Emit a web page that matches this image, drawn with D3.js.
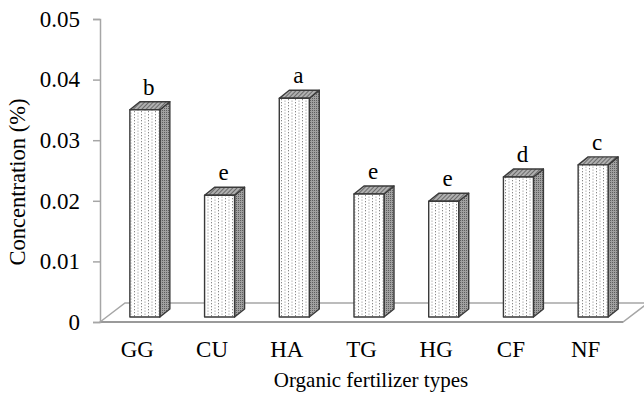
<!DOCTYPE html>
<html>
<head>
<meta charset="utf-8">
<title>Organic fertilizer concentration</title>
<script src="https://cdn.jsdelivr.net/npm/d3@7"></script>
<style>
    body { margin: 0; background: #fff; }
    svg text { font-family: "Liberation Serif", "Times New Roman", serif !important; fill: #000; }
    .floor { fill: none; stroke: #a6a6a6; stroke-width: 1.5px; }
    .bar-edge { stroke: #3a3a3a; stroke-width: 1.4px; stroke-linejoin: round; }
</style>
</head>
<body>
<script>
    // data
    var categories = ["GG", "CU", "HA", "TG", "HG", "CF", "NF"];
    var values = [0.0342, 0.0201, 0.0361, 0.0203, 0.0191, 0.0231, 0.0251];
    var letters = ["b", "e", "a", "e", "e", "d", "c"];
    var yTicks = [0, 0.01, 0.02, 0.03, 0.04, 0.05];

    var width = 644, height = 400;
    var plotLeft = 100, plotRight = 623, plotBottom = 322, plotTop = 19;
    var floorDx = 25, floorDy = -19;   // depth of the floor
    var offX = 7.5, offY = -5;         // bar front plane inside floor
    var depthX = 10, depthY = -8;      // bar depth
    var barW = 30;
    var fontSize = "23px";

    var svg = d3.select("body").append("svg")
        .attr("width", width)
        .attr("height", height);

    var defs = svg.append("defs");

    // dotted front face
    var pf = defs.append("pattern").attr("id", "dots-front")
        .attr("patternUnits", "userSpaceOnUse").attr("width", 7).attr("height", 3);
    pf.append("rect").attr("width", 7).attr("height", 3).attr("fill", "#fff");
    pf.append("rect").attr("x", 1).attr("y", 0).attr("width", 1).attr("height", 1.3).attr("fill", "#8a8a8a");
    pf.append("rect").attr("x", 4.5).attr("y", 1.5).attr("width", 1).attr("height", 1.3).attr("fill", "#a6a6a6");

    // dense side face
    var ps = defs.append("pattern").attr("id", "dots-side")
        .attr("patternUnits", "userSpaceOnUse").attr("width", 2).attr("height", 2);
    ps.append("rect").attr("width", 2).attr("height", 2).attr("fill", "#a0a0a0");
    ps.append("rect").attr("width", 1).attr("height", 1).attr("fill", "#5e5e5e");

    // hatched top face
    var pt = defs.append("pattern").attr("id", "hatch-top")
        .attr("patternUnits", "userSpaceOnUse").attr("width", 3).attr("height", 3)
        .attr("patternTransform", "rotate(45)");
    pt.append("rect").attr("width", 3).attr("height", 3).attr("fill", "#b0b0b0");
    pt.append("rect").attr("width", 1).attr("height", 3).attr("fill", "#6a6a6a");

    var x = d3.scaleBand().domain(categories).range([plotLeft, plotRight]).padding(0);
    var y = d3.scaleLinear().domain([0, 0.05]).range([plotBottom, plotTop]);

    // floor
    svg.append("path").attr("class", "floor")
        .attr("d", "M" + plotLeft + "," + plotBottom + "L" + (plotLeft + floorDx) + "," + (plotBottom + floorDy) +
            "L" + (plotRight + floorDx) + "," + (plotBottom + floorDy) + "L" + plotRight + "," + plotBottom + "Z");
    svg.append("line").attr("x1", plotLeft).attr("x2", plotRight).attr("y1", plotBottom).attr("y2", plotBottom)
        .attr("stroke", "#9a9a9a").attr("stroke-width", 2);

    // y axis
    var yAxis = d3.axisLeft(y).tickValues(yTicks).tickSize(7).tickPadding(13)
        .tickFormat(function (d) { return d === 0 ? "0" : d3.format(".2f")(d); });
    var ga = svg.append("g").attr("transform", "translate(" + plotLeft + ",0)").call(yAxis)
        .attr("font-family", "Liberation Serif").attr("font-size", fontSize);
    ga.select(".domain").attr("stroke", "#a6a6a6").attr("stroke-width", 1.5);
    ga.selectAll(".tick line").attr("stroke", "#a6a6a6").attr("stroke-width", 1.5);
    ga.selectAll(".tick text").style("font-size", fontSize).attr("fill", "#000");

    // bars
    var bars = svg.selectAll(".bar").data(categories).enter().append("g").attr("class", "bar");
    bars.each(function (c, i) {
        var g = d3.select(this);
        var cx = x(c) + x.bandwidth() / 2 + offX;
        var x0 = cx - barW / 2, x1 = cx + barW / 2;
        var yb = y(0) + offY, yt = y(values[i]) + offY;
        // side
        g.append("path").attr("class", "bar-edge").attr("fill", "url(#dots-side)")
            .attr("d", "M" + x1 + "," + yb + "L" + (x1 + depthX) + "," + (yb + depthY) +
                "L" + (x1 + depthX) + "," + (yt + depthY) + "L" + x1 + "," + yt + "Z");
        // top
        g.append("path").attr("class", "bar-edge").attr("fill", "url(#hatch-top)")
            .attr("d", "M" + x0 + "," + yt + "L" + (x0 + depthX) + "," + (yt + depthY) +
                "L" + (x1 + depthX) + "," + (yt + depthY) + "L" + x1 + "," + yt + "Z");
        // front
        g.append("rect").attr("class", "bar-edge").attr("fill", "url(#dots-front)")
            .attr("x", x0).attr("y", yt).attr("width", barW).attr("height", yb - yt);
        // significance letter
        g.append("text").attr("x", cx + 4).attr("y", yt - 15)
            .attr("text-anchor", "middle").style("font-size", fontSize)
            .text(letters[i]);
    });

    // category labels
    svg.selectAll(".cat").data(categories).enter().append("text")
        .attr("class", "cat")
        .attr("x", function (d) { return x(d) + x.bandwidth() / 2; })
        .attr("y", 357)
        .attr("text-anchor", "middle").style("font-size", fontSize)
        .text(function (d) { return d; });

    // axis titles
    svg.append("text").attr("x", 371).attr("y", 387).attr("text-anchor", "middle")
        .style("font-size", "21px").text("Organic fertilizer types");
    svg.append("text").attr("transform", "translate(25,182) rotate(-90)")
        .attr("text-anchor", "middle").style("font-size", "22.5px").text("Concentration (%)");
</script>
</body>
</html>
